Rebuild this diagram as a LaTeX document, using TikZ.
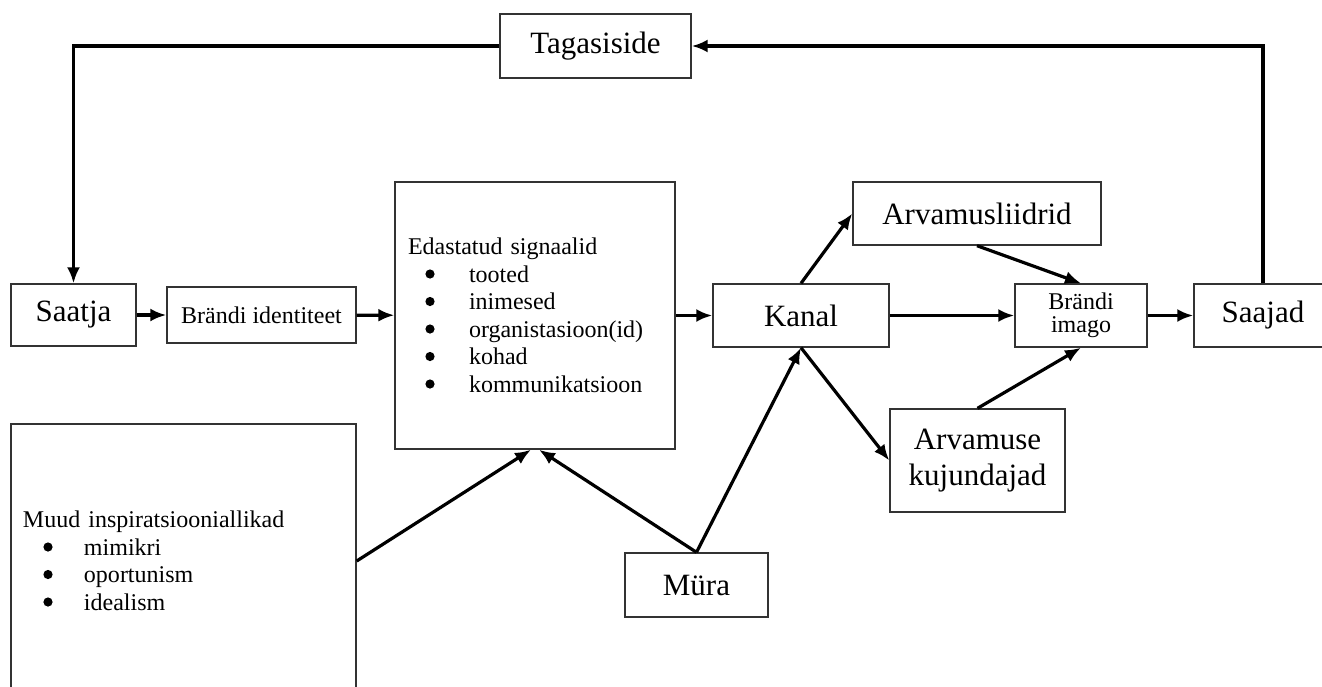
\documentclass[tikz,border=0pt]{standalone}
\usepackage{fontspec}
\setmainfont{Liberation Serif}
\usetikzlibrary{arrows.meta}
\newcommand{\punkt}[1]{\hspace*{30.5pt}#1}

\begin{document}
\begin{tikzpicture}[x=0.5pt,y=-0.5pt]
                \tikzset{>={Latex[length=8pt,width=6.5pt]},
                  plainbox/.style={draw=black!80,line width=0.7pt,inner sep=0pt,align=center,font=\fontsize{15.5}{18}\selectfont},
                  smallbox/.style={plainbox,font=\fontsize{12}{14}\selectfont},
                  flow/.style={->,line width=1.6pt}}
                \useasboundingbox (0,0) rectangle (1322,686);
                % top row
                \node[plainbox,minimum width=95.5pt,minimum height=32pt] (tagasiside) at (595.5,46) {Tagasiside};
                % main row
                \node[plainbox,minimum width=62.5pt,minimum height=31pt] (saatja) at (73.5,315) {Saatja};
                \node[smallbox,minimum width=94.5pt,minimum height=28pt] (identiteet) at (261.5,315) {Brändi identiteet};
                \node[smallbox,align=left,text width=127pt,inner xsep=6.5pt,minimum height=133.5pt,font=\fontsize{12}{13.75}\selectfont] (signaalid) at (535,315.5)
                  {Edastatud signaalid\\\punkt{tooted}\\\punkt{inimesed}\\\punkt{organistasioon(id)}\\\punkt{kohad}\\\punkt{kommunikatsioon}};
                \node[plainbox,minimum width=88pt,minimum height=31.5pt] (kanal) at (801,315.5) {Kanal};
                \node[plainbox,minimum width=124pt,minimum height=31.5pt] (liidrid) at (977,213.5) {Arvamusliidrid};
                \node[smallbox,minimum width=66pt,minimum height=31.5pt,font=\fontsize{12}{11.5}\selectfont] (imago) at (1081,315.5) {Brändi\\imago};
                \node[plainbox,minimum width=69pt,minimum height=31.5pt] (saajad) at (1263,315.5) {Saajad};
                \node[plainbox,minimum width=87.5pt,minimum height=51.5pt] (kujundajad) at (977.5,460.5) {Arvamuse\\kujundajad};
                % bottom row
                \node[plainbox,minimum width=71.5pt,minimum height=32pt] (mura) at (696.5,585) {Müra};
                \node[smallbox,align=left,text width=160.5pt,inner xsep=6pt,minimum height=137pt,font=\fontsize{12}{13.75}\selectfont] (muud) at (183.5,561)
                  {Muud inspiratsiooniallikad\\\punkt{mimikri}\\\punkt{oportunism}\\\punkt{idealism}};
                % list bullets
                \foreach \y in {274,301.5,329,356.5,384}
                  \fill (430,\y) circle (2.3pt);
                \foreach \y in {547,574.5,602}
                  \fill (48,\y) circle (2.3pt);
                % arrows
                \draw[flow] (saatja) -- (identiteet);
                \draw[flow] (identiteet) -- (signaalid);
                \draw[flow] (signaalid) -- (kanal);
                \draw[flow] (kanal) -- (imago);
                \draw[flow] (imago) -- (saajad);
                \draw[flow] (kanal.north) -- (liidrid.west);
                \draw[flow] (liidrid.south) -- (imago.north);
                \draw[flow] (kanal.south) -- (kujundajad.west);
                \draw[flow] (kujundajad.north) -- (imago.south);
                \draw[flow] (mura.north) -- (kanal.south);
                \draw[flow] (mura.north) -- ([xshift=2pt]signaalid.south);
                \draw[flow] (muud.east) -- ([xshift=-2pt]signaalid.south);
                % feedback loop
                \draw[flow] (saajad.north) |- (tagasiside.east);
                \draw[flow] (tagasiside.west) -| (saatja.north);
        \end{tikzpicture}
\end{document}
